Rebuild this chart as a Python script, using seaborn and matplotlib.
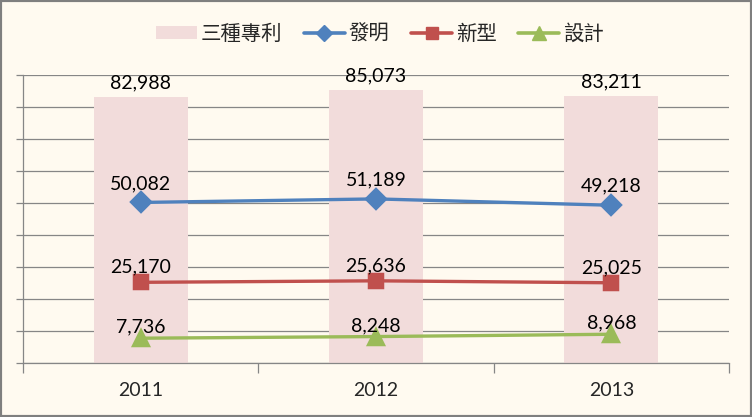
import numpy as np
import matplotlib
matplotlib.use('Agg')
import matplotlib.pyplot as plt
from matplotlib.patches import Rectangle
from matplotlib.lines import Line2D
from matplotlib.ticker import FixedLocator
import seaborn as sns

# data
years = ['2011', '2012', '2013']
total = [82988, 85073, 83211]      # 三種專利
invention = [50082, 51189, 49218]  # 發明
utility = [25170, 25636, 25025]    # 新型
design = [7736, 8248, 8968]        # 設計

bg = '#FFFAF0'
grid_c = '#868686'
pink, blue, red, green = '#F2DCDB', '#4F81BD', '#C0504D', '#9BBB59'

sns.set_style('white')
plt.rcParams['font.family'] = ['Lato', 'Noto Sans CJK TC', 'DejaVu Sans']

fig = plt.figure(figsize=(7.52, 4.17), dpi=100, facecolor=bg)
ax = fig.add_axes([23 / 752, 54 / 417, 706 / 752, 288.5 / 417])
ax.set_facecolor(bg)

# bars
sns.barplot(x=years, y=total, color=pink, width=0.4, saturation=1,
            linewidth=0, edgecolor='none', ax=ax, zorder=2)

# lines
series = [(invention, blue, 'D', 10, 19),
          (utility, red, 's', 10, 15),
          (design, green, '^', 11.5, 11)]
for vals, col, mk, ms, _ in series:
    sns.pointplot(x=years, y=vals, color=col, marker=mk, markersize=ms,
                  linewidth=2.4, ax=ax, zorder=4)

# data labels
def label(vals, off_px):
    for i, v in enumerate(vals):
        ax.annotate(f'{v:,}', (i, v), xytext=(0, off_px * 0.72), textcoords='offset points',
                    ha='center', va='center', fontsize=14, color='black', zorder=5)

label(total, 14)
for vals, col, mk, ms, off in series:
    label(vals, off)

ax.set_xlim(-0.5, 2.5)
ax.set_ylim(0, 90000)
ax.set_yticks(np.arange(0, 90001, 10000))
ax.set_yticklabels([])
ax.yaxis.grid(True, color=grid_c, linewidth=0.9, zorder=0)
ax.set_axisbelow(True)
ax.tick_params(axis='y', length=5, color=grid_c, width=0.9, left=True)
ax.tick_params(axis='x', which='major', length=0, labelsize=14, pad=14)
ax.xaxis.set_minor_locator(FixedLocator([-0.5, 0.5, 1.5, 2.5]))
ax.tick_params(axis='x', which='minor', length=7, color=grid_c, width=0.9, bottom=True)
for s in ['top', 'right']:
    ax.spines[s].set_visible(False)
for s in ['left', 'bottom']:
    ax.spines[s].set_color(grid_c)
    ax.spines[s].set_linewidth(0.9)
ax.set_xlabel('')
ax.set_ylabel('')

# legend
handles = [Rectangle((0, 0), 1, 1, facecolor=pink, edgecolor='none'),
           Line2D([], [], color=blue, marker='D', markersize=8.5, linewidth=2.6),
           Line2D([], [], color=red, marker='s', markersize=8.5, linewidth=2.6),
           Line2D([], [], color=green, marker='^', markersize=9.5, linewidth=2.6)]
fig.legend(handles, ['三種專利', '發明', '新型', '設計'], loc='center',
           bbox_to_anchor=(380 / 752, 1 - 33 / 417), ncol=4, frameon=False,
           fontsize=14.7, handlelength=2.0, handleheight=0.6, handletextpad=0.2,
           columnspacing=1.05)

# outer border
fig.patches.append(Rectangle((0, 0), 1, 1, transform=fig.transFigure, fill=False,
                             edgecolor='#7F7F7F', linewidth=3))

fig.savefig('out.png', dpi=100, facecolor=bg)
